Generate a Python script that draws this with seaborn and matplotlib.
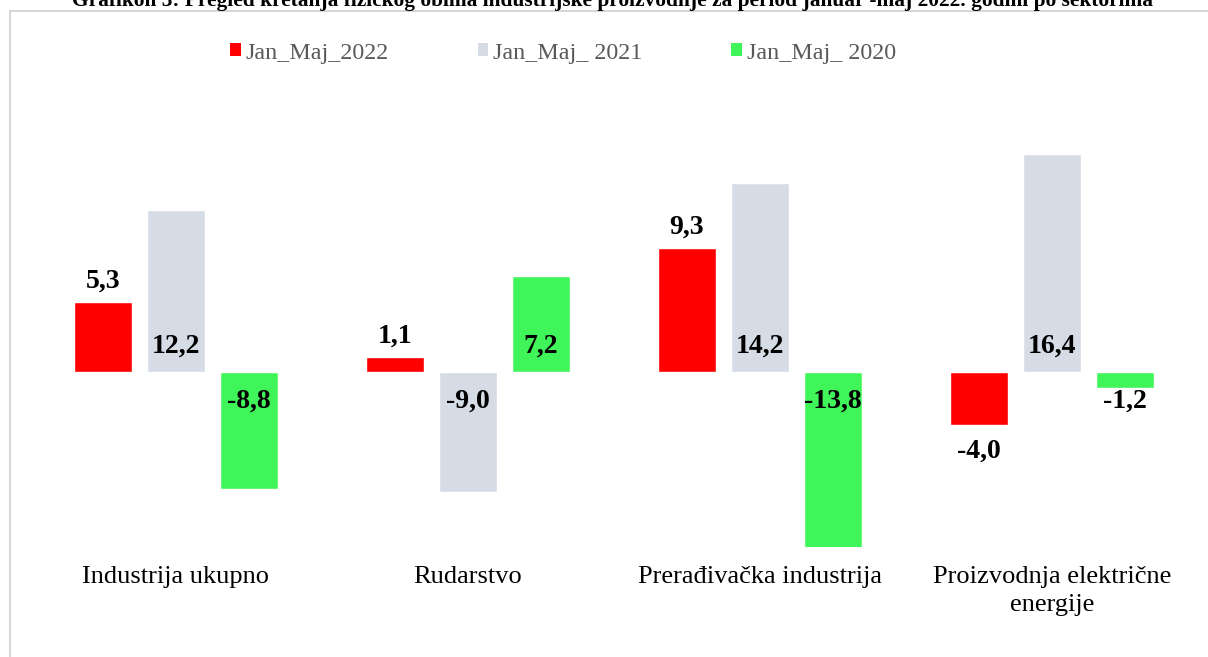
import matplotlib
matplotlib.use("Agg")
import matplotlib.pyplot as plt
import matplotlib.patches as mpatches
import seaborn as sns
import pandas as pd

categories = ["Industrija ukupno", "Rudarstvo", "Prerađivačka industrija",
              "Proizvodnja električne\nenergije"]
series = ["Jan_Maj_2022", "Jan_Maj_ 2021", "Jan_Maj_ 2020"]
v2022 = [5.3, 1.1, 9.3, -4.0]
v2021 = [12.2, -9.0, 14.2, 16.4]
v2020 = [-8.8, 7.2, -13.8, -1.2]
colors = ["#FF0000", "#D6DCE5", "#40F55A"]

rows = []
for s, vals in zip(series, [v2022, v2021, v2020]):
    for c, v in zip(categories, vals):
        rows.append({"cat": c, "series": s, "val": v})
df = pd.DataFrame(rows)

sns.set_theme(style="white")
plt.rcParams["font.family"] = ["Liberation Serif", "DejaVu Serif"]

W, H = 1208, 657
fig = plt.figure(figsize=(W / 100, H / 100), dpi=100)
fig.patch.set_facecolor("white")

# border
fig.patches.append(mpatches.Rectangle((10 / W, -0.1), 1.2, (H - 11) / H + 0.1,
                                      transform=fig.transFigure, fill=False,
                                      edgecolor="#D0D0D0", linewidth=1.2))

ax = fig.add_axes([30 / W, (H - 547) / H, 1168 / W, (547 - 119.3) / H])
sns.barplot(data=df, x="cat", y="val", hue="series", order=categories,
            hue_order=series, palette=colors, width=0.75, gap=0.2,
            saturation=1, legend=False, ax=ax, errorbar=None)

ax.set_ylim(-13.15, 19)
ax.set_xlim(-0.5, 3.5)
for sp in ax.spines.values():
    sp.set_visible(False)
ax.set_yticks([])
ax.set_xlabel("")
ax.set_ylabel("")
ax.tick_params(axis="x", length=0, pad=14, labelsize=19, labelcolor="black")
for lab in ax.get_xticklabels():
    lab.set_linespacing(1.35)

def fmt(v):
    return f"{v:.1f}".replace(".", ",")

for si, cont in enumerate(ax.containers):
    for bar, v in zip(cont, [v2022, v2021, v2020][si]):
        xc = bar.get_x() + bar.get_width() / 2
        if si == 0:
            y = v
            off = 15 if v >= 0 else -19
        else:
            y = 0
            off = 19 if v >= 0 else -21
        ax.annotate(fmt(v), (xc, y), xytext=(0, off), textcoords="offset points",
                    ha="center", va="center", fontsize=20, fontweight="bold",
                    color="black")

handles = [mpatches.Patch(facecolor=c, edgecolor="none", label=s)
           for c, s in zip(colors, series)]
leg = fig.legend(handles=handles, loc="center", bbox_to_anchor=(563 / W, 1 - 53 / H),
                 ncol=3, frameon=False, fontsize=17.3, handlelength=0.45,
                 handleheight=0.45, handletextpad=0.2, columnspacing=3.7,
                 labelcolor="#595959")

fig.text(0.507, 1 - 1 / H, "Grafikon 3: Pregled kretanja fizičkog obima industrijske proizvodnje "
         "za period januar -maj 2022. godini po sektorima", ha="center", va="center",
         fontsize=15.4, fontweight="bold", color="black")

fig.savefig("out.png", dpi=100, facecolor="white")
